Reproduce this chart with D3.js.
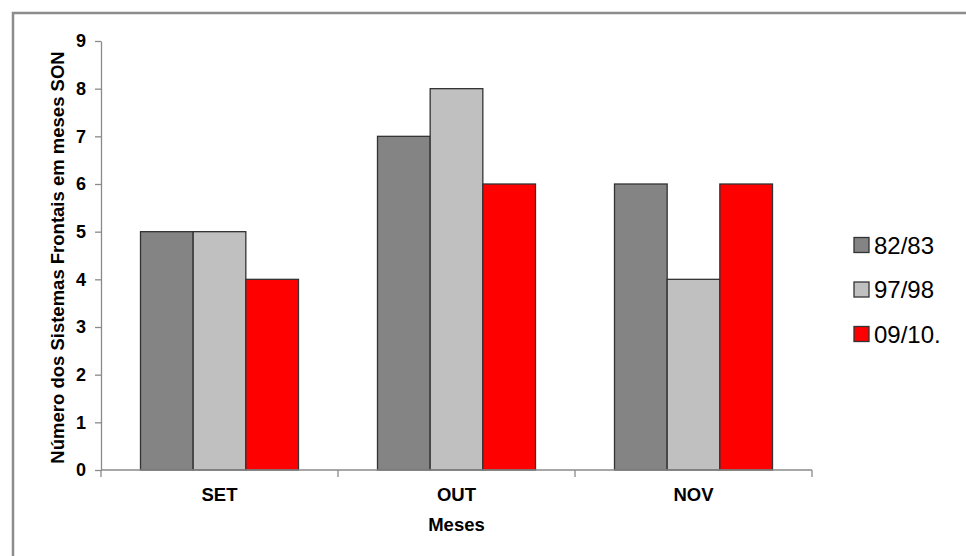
<!DOCTYPE html>
<html>
<head>
<meta charset="utf-8">
<script src="https://cdn.jsdelivr.net/npm/d3@7"></script>
<style>
  html, body { margin: 0; padding: 0; background: #fff; }
  svg { display: block; font-family: "Liberation Sans", Arial, sans-serif; }
</style>
</head>
<body>
<svg id="chart" width="966" height="556"></svg>
<script>
// Frontal systems per month (SON) for three seasons
const months = ["SET", "OUT", "NOV"];
const seasons = ["82/83", "97/98", "09/10."];
const values8283 = [5, 7, 6];
const values9798 = [5, 8, 4];
const values0910 = [4, 6, 6];
const yTicks = [0, 1, 2, 3, 4, 5, 6, 7, 8, 9];
const seasonColors = ["#848484", "#c0c0c0", "#ff0000"];

const seriesValues = [values8283, values9798, values0910];
const rows = months.map((m, i) => ({
  month: m,
  vals: seasons.map((s, j) => ({ season: s, value: seriesValues[j][i], color: seasonColors[j] }))
}));

const svg = d3.select("#chart");
const plot = { left: 101, right: 812, top: 41, bottom: 470 };

// outer frame (top and left edges visible)
svg.append("rect")
  .attr("x", 13).attr("y", 13)
  .attr("width", 1100).attr("height", 700)
  .attr("fill", "none")
  .attr("stroke", "#8c8c8c")
  .attr("stroke-width", 2.5);

const x0 = d3.scaleBand().domain(months).range([plot.left, plot.right]).paddingInner(0).paddingOuter(0);
const bw = x0.bandwidth();
const x1 = d3.scaleBand().domain(seasons).range([bw / 6, bw * 5 / 6]).padding(0);
const y = d3.scaleLinear().domain([0, 9]).range([plot.bottom, plot.top]);

// bars
const groups = svg.append("g").selectAll("g").data(rows).join("g")
  .attr("transform", d => `translate(${x0(d.month)},0)`);
groups.selectAll("rect").data(d => d.vals).join("rect")
  .attr("x", d => x1(d.season))
  .attr("y", d => y(d.value))
  .attr("width", x1.bandwidth())
  .attr("height", d => y(0) - y(d.value))
  .attr("fill", d => d.color)
  .attr("stroke", "#333")
  .attr("stroke-width", 1.3);

// y axis
const yAxis = svg.append("g")
  .attr("transform", `translate(${plot.left},0)`)
  .call(d3.axisLeft(y).tickValues(yTicks).tickFormat(d3.format("d")).tickSize(6).tickSizeOuter(0).tickPadding(9));
yAxis.select(".domain").attr("stroke", "#8a8a8a").attr("stroke-width", 1.3);
yAxis.selectAll(".tick line").attr("stroke", "#8a8a8a").attr("stroke-width", 1.3);
yAxis.selectAll(".tick text")
  .attr("fill", "#000")
  .attr("font-size", 18)
  .attr("font-weight", "bold")
  .attr("font-family", "Liberation Sans, Arial, sans-serif");

// x axis: baseline, boundary ticks, centered month labels
const xAxis = svg.append("g");
xAxis.append("line")
  .attr("x1", plot.left).attr("x2", plot.right)
  .attr("y1", y(0)).attr("y2", y(0))
  .attr("stroke", "#8a8a8a").attr("stroke-width", 1.3);
const boundaries = months.map(m => x0(m)).concat([x0(months[months.length - 1]) + bw]);
xAxis.selectAll("line.tick").data(boundaries).join("line")
  .attr("class", "tick")
  .attr("x1", d => d).attr("x2", d => d)
  .attr("y1", y(0)).attr("y2", y(0) + 7)
  .attr("stroke", "#8a8a8a").attr("stroke-width", 1.3);
xAxis.selectAll("text").data(months).join("text")
  .attr("x", d => x0(d) + bw / 2)
  .attr("y", 501)
  .attr("text-anchor", "middle")
  .attr("font-size", 18.5)
  .attr("font-weight", "bold")
  .text(d => d);

// axis titles
svg.append("text")
  .attr("x", (plot.left + plot.right) / 2)
  .attr("y", 531)
  .attr("text-anchor", "middle")
  .attr("font-size", 18.5)
  .attr("font-weight", "bold")
  .text("Meses");

svg.append("text")
  .attr("transform", `translate(63.5,${(plot.top + plot.bottom) / 2 + 2}) rotate(-90)`)
  .attr("text-anchor", "middle")
  .attr("font-size", 18.5)
  .attr("font-weight", "bold")
  .text("Número dos Sistemas Frontais em meses SON");

// legend
const legend = svg.append("g").selectAll("g").data(seasons).join("g")
  .attr("transform", (d, i) => `translate(854,${245 + i * 44.5})`);
legend.append("rect")
  .attr("x", 0).attr("y", -7.5)
  .attr("width", 15).attr("height", 15)
  .attr("fill", (d, i) => seasonColors[i])
  .attr("stroke", "#333").attr("stroke-width", 1.3);
legend.append("text")
  .attr("x", 20).attr("y", 8.5)
  .attr("font-size", 24)
  .text(d => d);
</script>
</body>
</html>
